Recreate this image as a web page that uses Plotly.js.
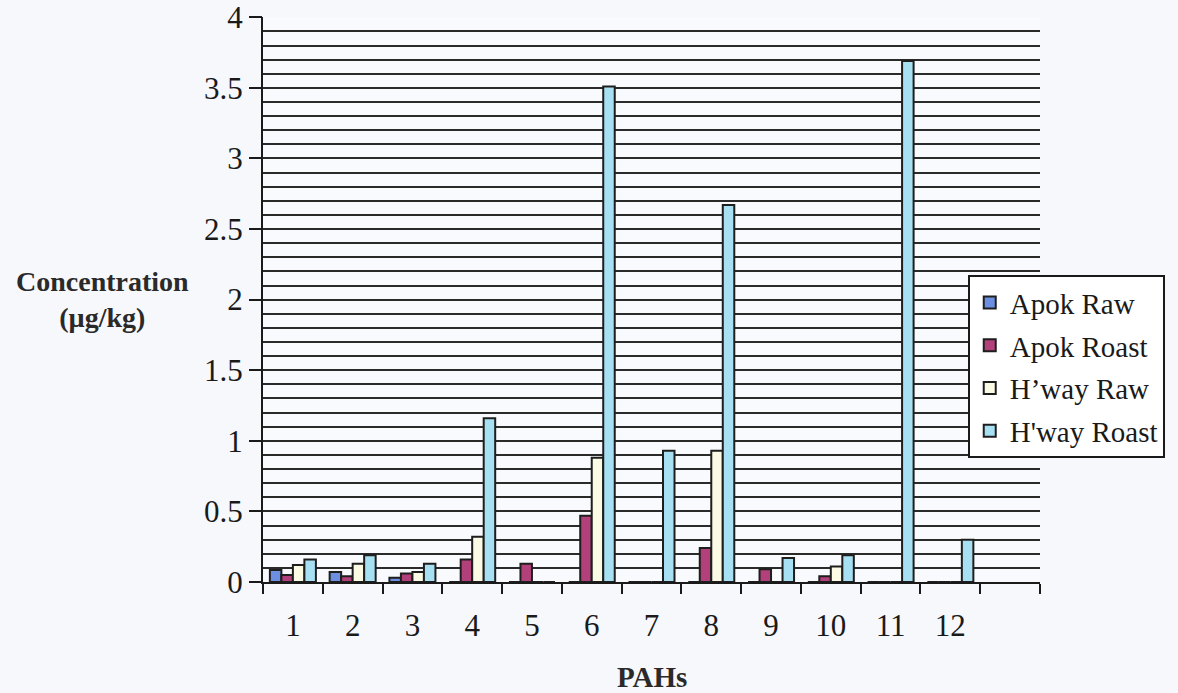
<!DOCTYPE html>
<html>
<head>
<meta charset="utf-8">
<script src="https://cdn.plot.ly/plotly-3.0.1.min.js"></script>
<style>
html,body{margin:0;padding:0;background:#f6f8fc;}
#chart{width:1178px;height:693px;}
</style>
</head>
<body>
<div id="chart"></div>
<script>
// Data
const categories = [1, 2, 3, 4, 5, 6, 7, 8, 9, 10, 11, 12];
const categoryLabels = ['1','2','3','4','5','6','7','8','9','10','11','12'];
const seriesNames = ['Apok Raw', 'Apok Roast', "H\u2019way Raw", "H'way Roast"];
const apokRaw    = [0.085, 0.07, 0.03, 0, 0, 0, 0, 0, 0, 0, 0, 0];
const apokRoast  = [0.05, 0.04, 0.06, 0.16, 0.13, 0.47, 0, 0.24, 0.09, 0.04, 0, 0];
const hwayRaw    = [0.12, 0.13, 0.07, 0.32, 0, 0.88, 0, 0.93, 0, 0.11, 0, 0];
const hwayRoast  = [0.16, 0.19, 0.13, 1.16, 0, 3.51, 0.93, 2.67, 0.17, 0.19, 3.69, 0.30];
const yLabelTicks = [0, 0.5, 1, 1.5, 2, 2.5, 3, 3.5, 4];
const yLabelText  = ['0', '0.5', '1', '1.5', '2', '2.5', '3', '3.5', '4'];
const gridVals = [0.1,0.2,0.3,0.4,0.5,0.6,0.7,0.8,0.9,1.0,1.1,1.2,1.3,1.4,1.5,1.6,1.7,1.8,1.9,2.0,
                  2.1,2.2,2.3,2.4,2.5,2.6,2.7,2.8,2.9,3.0,3.1,3.2,3.3,3.4,3.5,3.6,3.7,3.8,3.9];
const boundaryTicks = [0.5,1.5,2.5,3.5,4.5,5.5,6.5,7.5,8.5,9.5,10.5,11.5,12.5,13.5];

const colors = ['#6d8fe2', '#b2417b', '#fbfae4', '#a7e0f2'];
const seriesValues = [apokRaw, apokRoast, hwayRaw, hwayRoast];

const serif = 'Liberation Serif, Times New Roman, serif';
const yRange = [0, 4.002];

const traces = seriesValues.map((vals, i) => ({
  type: 'bar',
  name: seriesNames[i],
  x: categories,
  y: vals,
  legendgroup: 'g' + i,
  marker: {color: colors[i], line: {color: '#1e1e1e', width: 2}},
  hoverinfo: 'x+y+name'
}));

const layout = {
  width: 1178, height: 693,
  margin: {l: 263, r: 138, t: 17, b: 111},
  paper_bgcolor: '#f6f8fc',
  plot_bgcolor: '#f8fafd',
  barmode: 'group',
  bargap: 0.23,
  bargroupgap: 0,
  showlegend: true,
  legend: {
    x: 0.907, y: 0.543, xanchor: 'left', yanchor: 'top',
    bgcolor: '#ffffff', bordercolor: '#1a1a1a', borderwidth: 2,
    font: {family: serif, size: 29, color: '#1a1a1a'},
    traceorder: 'grouped', tracegroupgap: 2,
    itemwidth: 30
  },
  xaxis: {
    type: 'linear',
    range: [0.5, 13.5],
    tickmode: 'array', tickvals: boundaryTicks,
    ticktext: boundaryTicks.map(() => ''),
    ticks: 'outside', ticklen: 10, tickwidth: 2, tickcolor: '#1a1a1a',
    showgrid: false, zeroline: false,
    showline: true, linecolor: '#1a1a1a', linewidth: 2,
    fixedrange: true
  },
  xaxis2: {
    overlaying: 'x', anchor: 'y', side: 'bottom',
    type: 'linear',
    range: [0.5, 13.5],
    tickmode: 'array', tickvals: categories, ticktext: categoryLabels,
    ticks: '', showgrid: false, zeroline: false, showline: false,
    tickfont: {family: serif, size: 31, color: '#1a1a1a'},
    ticklabelstandoff: 22
  },
  yaxis: {
    range: yRange,
    tickmode: 'array', tickvals: gridVals,
    showticklabels: false, ticks: '',
    showgrid: true, gridcolor: '#2a2a2a', gridwidth: 2,
    zeroline: false,
    showline: true, linecolor: '#1a1a1a', linewidth: 2,
    fixedrange: true
  },
  yaxis2: {
    overlaying: 'y', anchor: 'x', side: 'left',
    range: yRange,
    tickmode: 'array', tickvals: yLabelTicks, ticktext: yLabelText,
    ticks: 'outside', ticklen: 13, tickwidth: 2, tickcolor: '#1a1a1a',
    showgrid: false, zeroline: false, showline: false,
    tickfont: {family: serif, size: 31, color: '#1a1a1a'},
    ticklabelstandoff: 0
  },
  annotations: [
    {
      xref: 'paper', yref: 'paper', x: -0.206, y: 0.5,
      xanchor: 'center', yanchor: 'middle', showarrow: false,
      text: '<b>Concentration</b><br><b>(\u00b5g/kg)</b>',
      font: {family: serif, size: 28, color: '#2a2a2a'},
      align: 'center'
    },
    {
      xref: 'paper', yref: 'paper', x: 0.5, y: -0.168,
      xanchor: 'center', yanchor: 'middle', showarrow: false,
      text: '<b>PAHs</b>',
      font: {family: serif, size: 29, color: '#2a2a2a'}
    }
  ]
};

// invisible helper trace so the overlay axes are drawn
traces.push({type: 'scatter', x: [1], y: [0], xaxis: 'x2', yaxis: 'y2',
  mode: 'markers', marker: {opacity: 0}, showlegend: false, hoverinfo: 'skip'});

Plotly.newPlot('chart', traces, layout, {displayModeBar: false, staticPlot: true});
</script>
</body>
</html>
